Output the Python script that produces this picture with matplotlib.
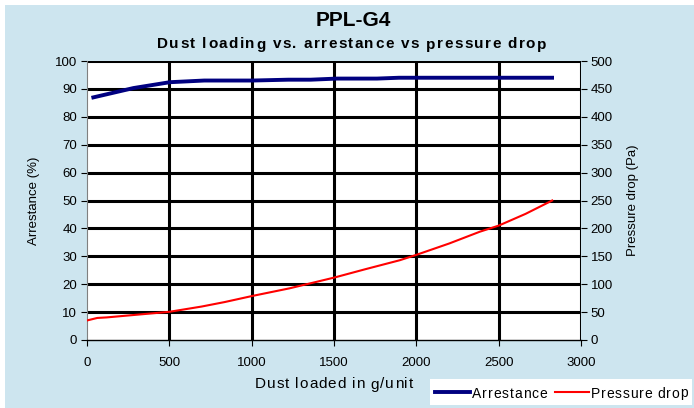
import matplotlib
matplotlib.use("Agg")
import matplotlib.pyplot as plt
from matplotlib.lines import Line2D
from matplotlib.patches import Rectangle
from matplotlib.font_manager import FontProperties

plt.rcParams['font.family'] = ['Liberation Sans', 'DejaVu Sans']

title = "PPL-G4"
subtitle = "Dust loading vs. arrestance vs pressure drop"
xlabel = "Dust loaded in g/unit"
ylabel_left = "Arrestance (%)"
ylabel_right = "Pressure drop (Pa)"
series_names = ["Arrestance", "Pressure drop"]

arr_x = [27, 282, 503, 712, 1003, 1223, 1358, 1519, 1761, 1895, 2003, 2836]
arr_y = [86.8, 90.3, 92.4, 93.0, 93.0, 93.3, 93.3, 93.7, 93.7, 94.0, 94.0, 94.0]

pd_x = [0, 62, 120, 500, 697, 836, 1005, 1230, 1503, 1692, 1900, 2004, 2200, 2385, 2500, 2663, 2825]
pd_y = [35, 39.5, 40.5, 50.5, 60, 68, 79, 92.6, 112, 127, 143, 153, 173, 194, 205, 226, 250]

xticks = [0, 500, 1000, 1500, 2000, 2500, 3000]
yticks_left = [0, 10, 20, 30, 40, 50, 60, 70, 80, 90, 100]
yticks_right = [0, 50, 100, 150, 200, 250, 300, 350, 400, 450, 500]

W, H = 694, 408
bg = '#CDE5EF'
fig = plt.figure(figsize=(W / 100, H / 100), dpi=100)
fig.patch.set_facecolor('white')
fig.patches.append(Rectangle((5 / W, 0), 1, 1 - 5 / H, transform=fig.transFigure,
                             facecolor=bg, edgecolor='none', zorder=-10))
renderer = fig.canvas.get_renderer()


def spaced_text(s, x0, x1, yc, size, weight='normal'):
    """Draw s spread from pixel x0 to x1 (letter spaced), vertically centred at yc (pixels from top)."""
    fp = FontProperties(family='Liberation Sans', size=size, weight=weight)
    widths = []
    for ch in s:
        if ch == ' ':
            w = renderer.get_text_width_height_descent('a a', fp, ismath=False)[0] - \
                renderer.get_text_width_height_descent('aa', fp, ismath=False)[0]
        else:
            w = renderer.get_text_width_height_descent(ch, fp, ismath=False)[0]
        widths.append(w)
    extra = ((x1 - x0) - sum(widths)) / max(len(s) - 1, 1)
    x = x0
    for ch, w in zip(s, widths):
        if ch != ' ':
            fig.text(x / W, 1 - yc / H, ch, fontproperties=fp, ha='left',
                     va='center_baseline', zorder=8)
        x += w + extra


ax = fig.add_axes([87 / W, 1 - 340 / H, (581 - 87) / W, (340 - 61) / H])
ax.set_facecolor('white')
ax.set_xlim(0, 3000)
ax.set_ylim(0, 100)
ax.set_xticks(xticks)
ax.set_yticks(yticks_left)
ax.tick_params(axis='both', labelsize=9.5, length=4, width=0.8, color='black', pad=3)
ax.tick_params(axis='x', pad=8)
for v in yticks_left[1:]:
    ax.axhline(v, color='black', lw=2.2, zorder=1)
for v in xticks[1:]:
    ax.axvline(v, color='black', lw=2.2, zorder=1)
for s in ['top', 'right']:
    ax.spines[s].set_visible(False)
ax.spines['left'].set_color('#808080')
ax.spines['left'].set_linewidth(0.8)
ax.spines['bottom'].set_color('black')
ax.spines['bottom'].set_linewidth(1.0)

ax.plot(arr_x, arr_y, color='#000080', lw=2.8, zorder=3, solid_capstyle='butt')

ax2 = ax.twinx()
ax2.set_ylim(0, 500)
ax2.set_yticks(yticks_right)
ax2.tick_params(axis='y', labelsize=9.5, length=4, width=0.8, pad=3)
for s in ['top', 'left', 'bottom', 'right']:
    ax2.spines[s].set_visible(False)
ax2.plot(pd_x, pd_y, color='#FF0000', lw=1.5, zorder=3)

ax.set_ylabel(ylabel_left, fontsize=9.5, labelpad=11)
ax2.set_ylabel(ylabel_right, fontsize=9.5, labelpad=10)

fig.text(353 / W, 1 - 20 / H, title, ha='center', va='center', fontsize=15, fontweight='bold')
spaced_text(subtitle, 157, 546, 43, 11, 'bold')
spaced_text(xlabel, 255, 413, 383, 11)

# legend box (drawn manually to match reference spacing)
fig.patches.append(Rectangle((430 / W, 1 - 405 / H), 262 / W, 26 / H, transform=fig.transFigure,
                             facecolor='white', edgecolor='none', zorder=5))
fig.lines.append(Line2D([435 / W, 470 / W], [1 - 392 / H] * 2, transform=fig.transFigure,
                        color='#000080', lw=2.8, zorder=6))
fig.lines.append(Line2D([555 / W, 589 / W], [1 - 392 / H] * 2, transform=fig.transFigure,
                        color='#FF0000', lw=1.5, zorder=6))
spaced_text(series_names[0], 472, 547, 392, 10)
spaced_text(series_names[1], 591, 688, 392, 10)

fig.savefig('out.png', dpi=100, facecolor=fig.get_facecolor())
